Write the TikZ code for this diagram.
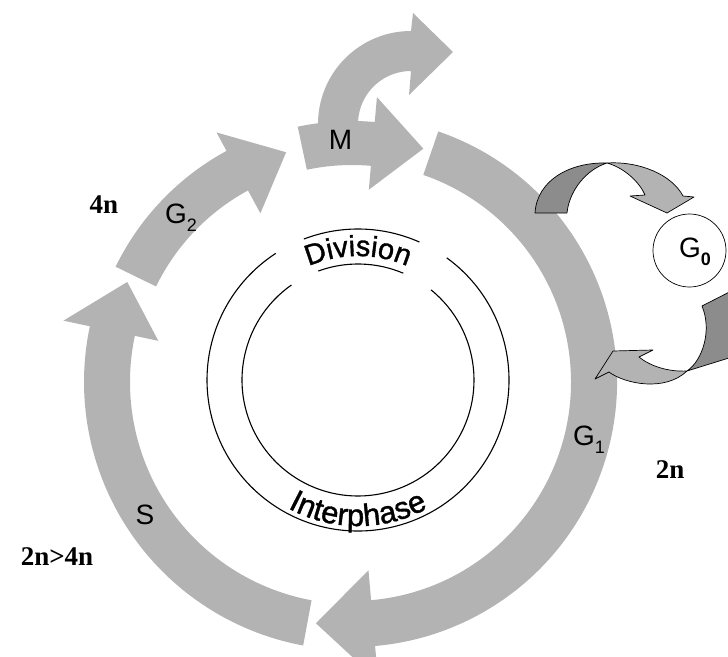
\documentclass[tikz,border=0pt]{standalone}
\usepackage{fontspec}
\setmainfont{Liberation Serif}
\newfontfamily\arialfont{Liberation Sans}
\newfontfamily\arcfont[FakeBold=1.2]{Liberation Sans}
\usetikzlibrary{calc,decorations.text}
\definecolor{bandgray}{RGB}{179,179,179}
\definecolor{shadegray}{RGB}{140,140,140}
\newcommand\lblfont{\arialfont\fontsize{28}{30}\selectfont}
\newcommand\subfont{\arialfont\fontsize{18}{20}\selectfont}
\newcommand\divfont{\arcfont\fontsize{29}{31}\selectfont}
\newcommand\intfont{\arcfont\fontsize{31}{33}\selectfont}
\newcommand\ploidyfont{\rmfamily\bfseries\fontsize{27}{29}\selectfont}
% block arc arrow: centre, tail angle, head-base angle, tip angle,
% inner r, outer r, head inner r, head outer r, tip r
\newcommand\blockarc[9]{%
  \fill[bandgray] ($(#1)+(#2:#5)$) -- ($(#1)+(#2:#6)$)
    arc[start angle=#2, end angle=#3, radius=#6]
    -- ($(#1)+(#3:#8)$) -- ($(#1)+(#4:#9)$) -- ($(#1)+(#3:#7)$)
    -- ($(#1)+(#3:#5)$) arc[start angle=#3, end angle=#2, radius=#5] -- cycle;}
\begin{document}
\begin{tikzpicture}[x=1pt,y=1pt,
  lbl/.style={font=\lblfont, inner sep=0pt},
  ploidy/.style={font=\ploidyfont, inner sep=0pt},
  ribbon/.style={draw=black, line width=0.7pt, line join=round},
  ringline/.style={line width=1.1pt}]
\useasboundingbox (0,0) rectangle (728,-656);
\clip (0,0) rectangle (728,-656);

\coordinate (C) at (352,-382);   % centre of the phase arrows
\coordinate (K) at (358,-380);   % centre of the inner rings
\coordinate (U) at (411,-124);   % centre of the exit arrow above M

% exit arrow leaving mitosis
\fill[bandgray] ($(U)+(192:54)$) -- ($(U)+(192:93)$)
  arc[start angle=192, end angle=90, radius=93]
  -- (413,-13) -- (453,-52) -- (409,-95) -- ($(U)+(90:53)$)
  arc[start angle=90, end angle=192, radius=53] -- cycle;

% phase arrows
\blockarc{C}{71}{-85}{-98.5}{219}{265}{189}{300}{244}   % G1
\blockarc{C}{259.5}{168}{156}{222}{268}{198}{295}{246}  % S
\blockarc{C}{154}{118.5}{106}{218}{263}{192}{284}{239}  % G2
\blockarc{C}{102}{85}{73}{217}{261}{193}{286}{244}      % M

% rings with the Division gap
\draw[ringline] ($(K)+(54:151)$) arc[start angle=54, end angle=-237, radius=151];
\draw[ringline] ($(K)+(51:116)$) arc[start angle=51, end angle=-235, radius=116];
\draw[ringline] ($(K)+(111:151)$) arc[start angle=111, end angle=66, radius=151];
\draw[ringline] ($(K)+(110:116)$) arc[start angle=110, end angle=67, radius=116];

\path[decorate, decoration={text along path, text align=center,
  text={|\divfont|Division}}]
  ($(K)+(150:124)$) arc[start angle=150, end angle=30, radius=124];
\path[decorate, decoration={text along path, text align=center,
  text={|\intfont|Interphase}}]
  ($(K)+(210:146)$) arc[start angle=210, end angle=330, radius=146];

% G0 detour: arrow into G0
\fill[bandgray, ribbon] (607,-163) .. controls (640,-161) and (672,-175) .. (683,-196)
  -- (694,-197) -- (667,-213) -- (630,-196) -- (645,-195)
  .. controls (640,-183) and (625,-168) .. (607,-163) -- cycle;
\fill[shadegray, ribbon] (607,-163) .. controls (570,-162) and (537,-180) .. (535,-213)
  -- (567,-213) .. controls (569,-192) and (585,-170) .. (607,-163) -- cycle;

% G0 detour: arrow back into G1
\fill[bandgray, ribbon] (687,-371) .. controls (668,-372) and (650,-366) .. (639,-357)
  -- (653,-350) -- (613,-351) -- (595,-379) -- (609,-372)
  .. controls (625,-384) and (665,-392) .. (687,-371) -- cycle;
\fill[shadegray, ribbon] (687,-371) .. controls (703,-360) and (712,-330) .. (702,-306)
  -- (745,-284) -- (745,-353) -- cycle;

\node[draw=black, fill=white, line width=0.7pt, circle, minimum size=73pt, inner sep=0pt]
  (g0ring) at (689.5,-250.5) {};
\node[lbl] (g0) at (695,-252) {G\raisebox{-0.3em}{\subfont\bfseries 0}};

% phase labels
\node[lbl] (m) at (340.5,-140) {M};
\node[lbl] (g2) at (181,-218) {G\raisebox{-0.3em}{\subfont 2}};
\node[lbl] (s) at (145,-515) {S};
\node[lbl] (g1) at (589,-440) {G\raisebox{-0.3em}{\subfont 1}};

% DNA content
\node[ploidy] (p4) at (104,-205) {4n};
\node[ploidy] (p24) at (57,-557) {2n>4n};
\node[ploidy] (p2) at (670,-470) {2n};
\end{tikzpicture}
\end{document}
